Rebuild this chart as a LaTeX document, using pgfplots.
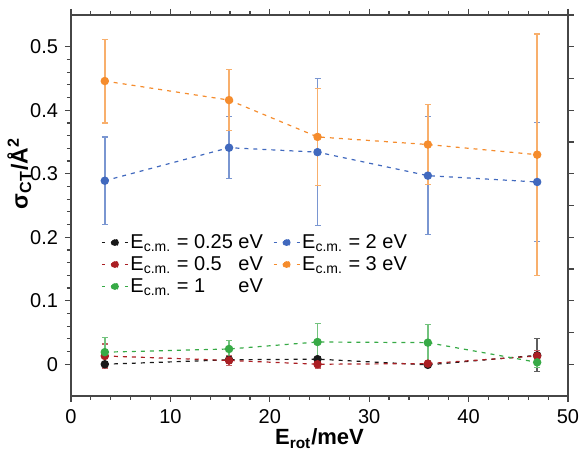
\documentclass[border=0pt]{standalone}
\usepackage{fontspec}
\setmainfont{Liberation Sans}
\usepackage{pgfplots}
\pgfplotsset{compat=1.18}
\definecolor{cBlack}{RGB}{25,25,25}
\definecolor{cRed}{RGB}{170,30,35}
\definecolor{cGreen}{RGB}{55,170,70}
\definecolor{cBlue}{RGB}{65,105,190}
\definecolor{cOrange}{RGB}{245,140,45}
\definecolor{axgray}{RGB}{70,70,70}
\begin{document}
\begin{tikzpicture}
\pgfplotsset{
  common/.style={
    scale only axis, width=248.5pt, height=190.5pt,
    xmin=0, xmax=50, ymin=-0.05, ymax=0.55,
    axis line style={axgray, line width=0.6pt},
    tick style={axgray, line width=0.6pt},
    tick align=outside,
    major tick length=3pt, minor tick length=2pt,
    /pgf/number format/assume math mode=true,
    tick label style={font=\fontsize{10}{12}\selectfont},
  },
  ser/.style={color=#1, line width=0.6pt, dash pattern=on 2pt off 2.5pt,
    mark=*, mark size=1.8pt, mark options={solid, fill=#1, draw=#1},
    error bars/.cd, y dir=both, y explicit,
    error bar style={color=#1!70!white, line width=0.9pt, solid},
    error mark options={color=#1!70!white, line width=0.6pt, mark size=1.5pt, rotate=90}},
}
\begin{axis}[common, name=ax,
  xtick={0,10,...,50}, ytick={0,0.1,...,0.5},
  minor x tick num=4, minor y tick num=4,
  xtick pos=both, ytick pos=left,
  yticklabel style={/pgf/number format/fixed},
  xlabel={\textbf{E\textsubscript{rot}/meV}},
  ylabel={\textbf{σ\textsubscript{CT}/Å\textsuperscript{2}}},
  xlabel style={font=\fontsize{11}{13}\selectfont, yshift=4pt},
  ylabel style={font=\fontsize{11.5}{13}\selectfont, yshift=-7.5pt, xshift=16pt},
  legend columns=2,
  legend cell align=left,
  legend style={draw=none, fill=none, at={(axis cs:2.4,0.215)}, anchor=north west,
    font=\fontsize{10}{12}\selectfont, row sep=0.5pt,
    nodes={inner xsep=1pt, inner ysep=1pt},
    /tikz/every even column/.append style={column sep=4pt}},
  legend image code/.code={%
    \draw[solid, line width=0.6pt] (0pt,0pt)--(1.5pt,0pt) (11.5pt,0pt)--(13pt,0pt);
    \fill (6.5pt,0pt) circle (1.7pt);},
]
\addplot[ser=cBlack] coordinates {
 (3.4,0.000) +- (0,0.004)
 (15.9,0.007) +- (0,0.005)
 (24.8,0.008) +- (0,0.004)
 (35.9,-0.001) +- (0,0.004)
 (46.9,0.014) +- (0,0.026)
};
\addlegendentry{E\textsubscript{c.m.} = 0.25 eV}
\addplot[ser=cBlue] coordinates {
 (3.4,0.289) +- (0,0.069)
 (15.9,0.341) +- (0,0.049)
 (24.8,0.334) +- (0,0.116)
 (35.9,0.297) +- (0,0.093)
 (46.9,0.287) +- (0,0.094)
};
\addlegendentry{E\textsubscript{c.m.} = 2 eV}
\addplot[ser=cRed] coordinates {
 (3.4,0.013) +- (0,0.019)
 (15.9,0.006) +- (0,0.008)
 (24.8,0.000) +- (0,0.006)
 (35.9,0.001) +- (0,0.004)
 (46.9,0.013) +- (0,0.008)
};
\addlegendentry{E\textsubscript{c.m.} = 0.5\phantom{5} eV}
\addplot[ser=cOrange] coordinates {
 (3.4,0.446) +- (0,0.066)
 (15.9,0.416) +- (0,0.048)
 (24.8,0.358) +- (0,0.076)
 (35.9,0.346) +- (0,0.063)
 (46.9,0.330) +- (0,0.190)
};
\addlegendentry{E\textsubscript{c.m.} = 3 eV}
\addplot[ser=cGreen] coordinates {
 (3.4,0.019) +- (0,0.023)
 (15.9,0.024) +- (0,0.013)
 (24.8,0.035) +- (0,0.029)
 (35.9,0.034) +- (0,0.029)
 (46.9,0.003) +- (0,0.008)
};
\addlegendentry{E\textsubscript{c.m.} = 1\phantom{.25} eV}
\end{axis}
\begin{axis}[common, axis x line=none, axis y line*=right,
  ytick={0,0.05,...,0.55}, yticklabels={}, minor y tick num=0]
\addplot[draw=none] coordinates {(0,0)};
\end{axis}
\pgfresetboundingbox
\path ([shift={(-35.5pt,-27pt)}]ax.south west) rectangle ([shift={(5.5pt,7.5pt)}]ax.north east);
\end{tikzpicture}
\end{document}
